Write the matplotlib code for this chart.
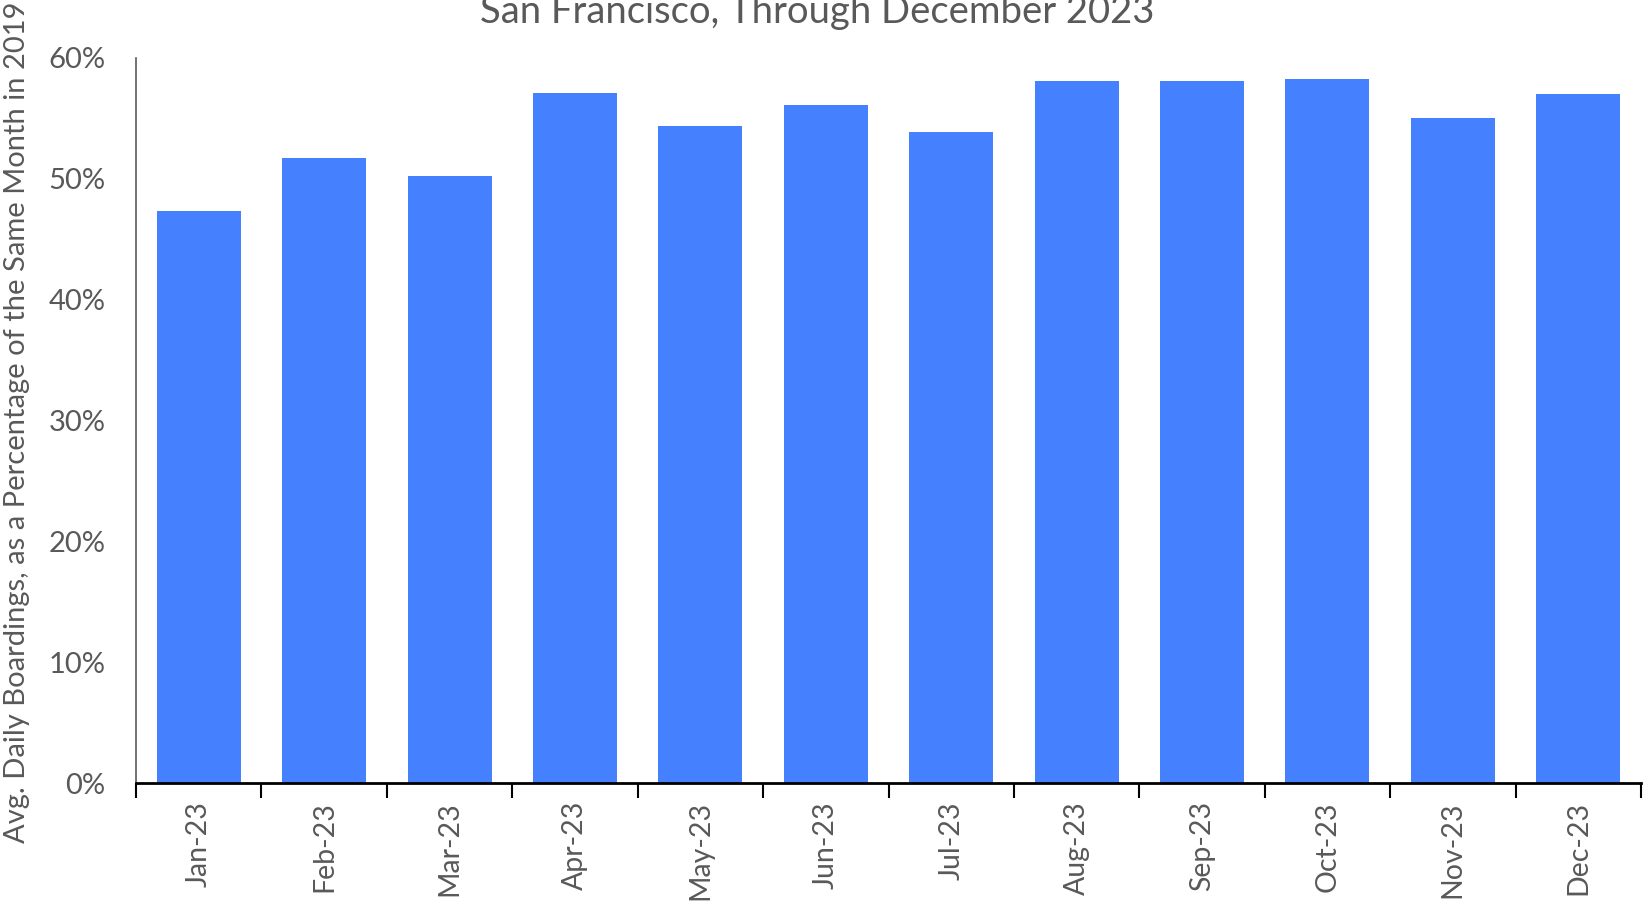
import numpy as np
import matplotlib
matplotlib.use('Agg')
import matplotlib.pyplot as plt
from matplotlib.ticker import FuncFormatter, FixedLocator

months = ['Jan-23', 'Feb-23', 'Mar-23', 'Apr-23', 'May-23', 'Jun-23',
          'Jul-23', 'Aug-23', 'Sep-23', 'Oct-23', 'Nov-23', 'Dec-23']
pct_of_2019 = [47.3, 51.7, 50.2, 57.1, 54.4, 56.1,
               53.9, 58.1, 58.1, 58.3, 55.0, 57.0]
yticks = [0, 10, 20, 30, 40, 50, 60]

title = 'San Francisco, Through December 2023'
ylabel = 'Avg. Daily Boardings, as a Percentage of the Same Month in 2019'

plt.rcParams['font.family'] = ['Lato', 'DejaVu Sans']
grey = '#595959'

fig = plt.figure(figsize=(16.46, 9.06), dpi=100)
ax = fig.add_axes([136 / 1646, 1 - 783 / 906, (1641 - 136) / 1646, (783 - 58) / 906])

x = np.arange(len(months))
ax.bar(x, pct_of_2019, width=0.67, color='#4580ff', zorder=2)

ax.set_xlim(-0.5, len(months) - 0.5)
ax.set_ylim(0, 60)
ax.set_yticks(yticks)
ax.yaxis.set_major_formatter(FuncFormatter(lambda v, p: f'{v:.0f}%'))
ax.tick_params(axis='y', length=0, pad=22, labelsize=21, labelcolor=grey)

# category labels centred, tick marks on the boundaries
ax.set_xticks(x)
ax.set_xticklabels(months, rotation=90, fontsize=20.5, color=grey)
ax.tick_params(axis='x', which='major', length=0, pad=13)
ax.xaxis.set_minor_locator(FixedLocator(np.arange(-0.5, len(months), 1)))
ax.tick_params(axis='x', which='minor', length=11, width=1.5, color='black', direction='out')

for s in ['top', 'right']:
    ax.spines[s].set_visible(False)
ax.spines['left'].set_color(grey)
ax.spines['left'].set_linewidth(1.2)
ax.spines['bottom'].set_color('black')
ax.spines['bottom'].set_linewidth(2)
ax.spines['bottom'].set_zorder(3)

fig.text(17 / 1646, 1 - 422 / 906, ylabel, rotation=90, ha='center', va='center',
         fontsize=21, color=grey)
fig.text(817 / 1646, 1 - 12 / 906, title, ha='center', va='center',
         fontsize=27.5, color=grey)

fig.savefig('out.png', dpi=100)
